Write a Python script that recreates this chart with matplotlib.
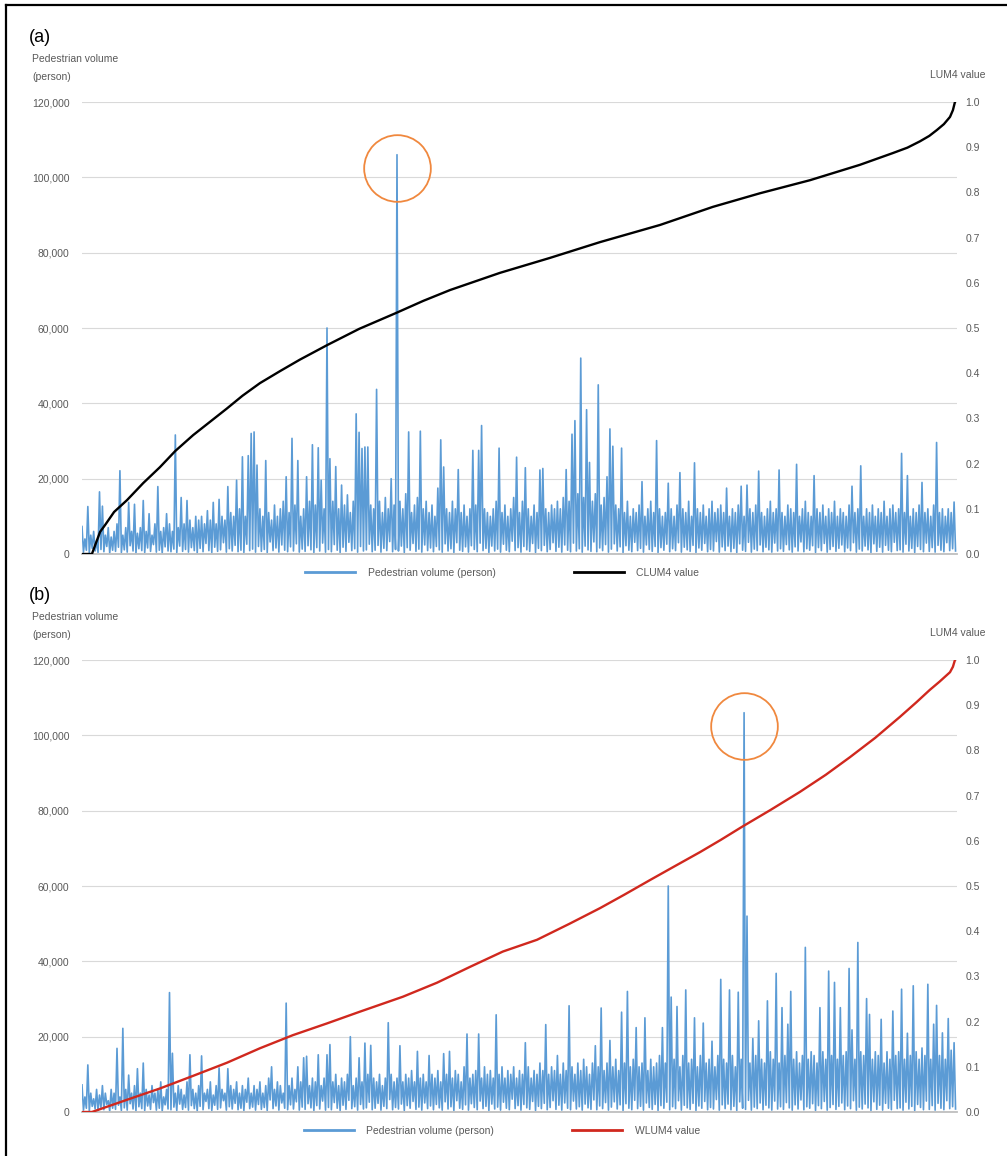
#!/usr/bin/env python3
# Pedestrian volume vs. CLUM4 / WLUM4 rank, two panels (a) and (b)

import numpy as np
import matplotlib
matplotlib.use("Agg")
import matplotlib.pyplot as plt
from matplotlib.lines import Line2D
from matplotlib.ticker import StrMethodFormatter, MultipleLocator

plt.rcParams["font.family"] = ["Liberation Sans", "DejaVu Sans"]

# pedestrian volume (thousand persons), local peaks, one per rank bin, sorted by CLUM4
peak_a = [
    7.3, 4, 12.6, 5, 6, 3.5, 16.5, 12.7, 5, 7, 4.5, 6, 8, 22.1, 5, 7, 13.7, 6, 13.2, 5.5,
    7, 14.2, 6, 10.7, 5, 8, 17.9, 6, 7, 10.7, 8, 6, 31.6, 7, 15, 8, 14.2, 9, 7, 10,
    9, 10, 8, 11.5, 9, 13.7, 8, 14.5, 10, 9, 17.9, 11, 10, 19.6, 12, 25.8, 10, 26.1, 32.0, 32.4,
    23.6, 12, 10, 24.8, 11, 9, 13, 10, 12, 14, 20.5, 11, 30.7, 13, 24.8, 10, 12, 20.5, 14, 29,
    13, 28.2, 19.6, 12, 60, 25.3, 14, 23.2, 12, 18.3, 13, 15.7, 11, 14, 37.2, 32.3, 28, 28.4, 28.4, 13,
    12, 43.7, 14, 11, 15, 12, 20, 13, 106, 14, 12, 16, 32.4, 11, 13, 15, 32.6, 12, 14, 11,
    13, 10, 17.5, 30.3, 23.1, 12, 11, 14, 12, 22.4, 11, 13, 10, 12, 27.5, 13, 27.5, 34.1, 12, 11,
    10, 12, 14, 28.1, 11, 13, 10, 12, 15, 25.7, 11, 14, 22.9, 12, 10, 13, 11, 22.3, 22.7, 12,
    11, 13, 12, 14, 12, 15, 22.4, 14, 31.8, 35.4, 16, 52, 15, 38.3, 24.3, 14, 16, 44.9, 13, 15,
    20.5, 33.2, 28.6, 13, 12, 28.1, 11, 14, 10, 12, 11, 13, 19.2, 10, 12, 14, 11, 30.1, 12, 10,
    11, 18.8, 12, 10, 13, 21.6, 12, 11, 14, 10, 24.2, 12, 11, 13, 10, 12, 14, 11, 12, 13,
    11, 17.5, 10, 12, 11, 13, 18, 10, 18.3, 12, 11, 13, 22, 11, 10, 12, 14, 11, 12, 22.3,
    11, 10, 13, 12, 11, 23.8, 10, 12, 14, 11, 10, 20.8, 12, 11, 13, 10, 12, 11, 14, 10,
    12, 11, 10, 13, 18, 11, 12, 23.4, 10, 12, 11, 13, 10, 12, 11, 14, 10, 12, 13, 11,
    12, 26.7, 11, 20.8, 10, 12, 11, 13, 19, 11, 12, 10, 13, 29.6, 11, 12, 10, 12, 11, 13.8,
]

# same data sorted by WLUM4
peak_b = [
    7.2, 4, 12.5, 5, 3.5, 6, 4.5, 7, 5, 3, 6, 5, 16.9, 4, 22.2, 6, 9.8, 5, 7, 11.5,
    5, 13, 6, 4.5, 7, 5, 6, 8, 4, 6, 31.7, 15.6, 5, 7, 6, 4.5, 8, 15.2, 6, 5,
    7, 14.9, 5, 6, 8, 4.5, 7, 11.7, 6, 5, 11.5, 7, 6, 8, 5, 7, 6, 9, 5, 7,
    6, 8, 5, 7, 9, 12, 6, 8, 7, 5, 28.9, 7, 9, 6, 12, 8, 14.4, 14.8, 7, 9,
    8, 15.2, 7, 9, 15.2, 17.9, 8, 10, 7, 9, 8, 10, 20, 7, 9, 14.4, 8, 18.3, 10, 17.7,
    9, 8, 10, 7, 9, 23.7, 10, 8, 9, 17.6, 8, 10, 9, 11, 8, 16.1, 9, 10, 8, 15,
    10, 9, 11, 8, 15.5, 10, 16.1, 9, 11, 10, 8, 12, 20.7, 9, 10, 11, 20.7, 9, 12, 10,
    11, 9, 25.8, 10, 12, 9, 11, 10, 12, 9, 11, 10, 18.4, 12, 9, 11, 10, 13, 11, 23.2,
    10, 12, 11, 15, 10, 13, 11, 28.2, 12, 10, 13, 11, 14, 12, 10, 13, 17.6, 12, 27.6, 11,
    13, 19, 12, 14, 11, 26.5, 13, 32, 12, 14, 22.4, 12, 13, 25, 11, 14, 12, 13, 15, 22.4,
    13, 60, 30.5, 14, 28, 12, 15, 32.4, 13, 14, 25, 12, 15, 23.6, 13, 14, 18.8, 12, 15, 35.2,
    14, 13, 32.4, 15, 12, 31.8, 14, 106, 52, 13, 19.5, 15, 24.2, 14, 13, 29.5, 16, 14, 36.8, 13,
    27.7, 15, 23.3, 32, 14, 16, 13, 15, 43.7, 14, 16, 15, 13, 27.7, 16, 14, 37.4, 15, 34.4, 14,
    27.7, 15, 16, 38.1, 21.8, 14, 45, 16, 15, 30.1, 25.9, 14, 16, 15, 24.6, 13, 16, 14, 26.8, 15,
    16, 32.6, 14, 20.9, 15, 33.5, 16, 14, 17, 15, 33.9, 14, 23.3, 28.3, 15, 21, 14, 24.8, 16.4, 18.4,
]

# low points between the peaks (thousand persons)
low_vals = [
    0.5, 1.0, 0.3, 1.5, 0.8, 0.4, 1.2, 0.6, 2.0, 0.3, 1.0, 0.7, 1.8, 0.4, 1.1, 0.5, 2.2, 0.8, 0.3, 1.4,
    0.9, 0.4, 1.6, 0.7, 2.5, 0.5, 1.0, 0.3, 1.9, 0.8, 0.6, 1.3, 0.4, 2.1, 0.7, 1.2, 0.5, 1.7, 0.9, 0.3,
    1.5, 0.6, 2.8, 0.9, 0.4, 1.8, 0.7, 1.1, 3.0, 0.5, 1.4, 0.8, 2.3, 0.6, 1.0, 0.4, 2.6, 0.9, 1.3, 0.5,
    2.0, 0.7, 1.2, 0.4, 3.2, 0.9, 1.6, 0.5, 2.4, 1.0, 0.6, 1.9, 0.8, 2.7, 0.5, 1.3, 0.7, 2.2, 1.1, 0.4,
    1.7, 0.8, 2.9, 0.5, 1.2, 0.6, 2.5, 1.0, 0.4, 1.8, 0.7, 3.1, 0.9, 1.4, 0.5, 2.0, 0.8, 1.1, 2.6, 0.6,
    1.0, 2.3, 0.5, 1.5, 0.9, 3.3, 0.6, 1.2, 0.8, 2.1, 0.4, 1.7, 1.0, 2.8, 0.7, 1.3, 0.5, 2.4, 0.9, 1.6,
    0.6, 2.0, 1.1, 0.5, 2.7, 0.8, 1.4, 0.4, 3.0, 1.0, 0.7, 1.9, 0.5, 2.2, 1.2, 0.6, 2.9, 0.9, 1.5, 0.4,
    2.1, 0.8, 1.3, 0.5, 2.6, 1.0, 0.6, 3.4, 0.9, 1.7, 0.5, 2.0, 1.1, 0.7, 2.8, 0.4, 1.5, 0.9, 2.3, 0.6,
    1.2, 3.0, 0.7, 1.8, 0.5, 2.4, 1.0, 0.6, 2.9, 0.8, 1.4, 0.5, 2.1, 1.1, 0.7, 3.2, 0.6, 1.6, 0.9, 2.5,
    0.5, 1.3, 2.7, 0.8, 1.9, 0.4, 2.2, 1.0, 0.6, 3.1, 0.9, 1.5, 0.5, 2.4, 1.2, 0.7, 2.0, 0.4, 1.7, 1.0,
    2.6, 0.6, 1.4, 0.9, 3.0, 0.5, 1.8, 1.1, 0.7, 2.3, 0.4, 1.6, 1.0, 2.8, 0.6, 1.2, 0.8, 3.3, 0.5, 1.9,
    0.9, 2.1, 0.6, 1.5, 0.4, 2.7, 1.0, 0.7, 3.1, 0.5, 1.3, 0.9, 2.4, 0.6, 1.8, 1.1, 0.5, 2.9, 0.8, 1.4,
    0.7, 2.5, 1.1, 0.5, 1.9, 0.8, 3.2, 0.6, 1.4, 1.0, 2.2, 0.4, 1.7, 0.9, 2.8, 0.5, 1.2, 2.0, 0.7, 1.5,
    2.4, 0.6, 1.6, 0.9, 3.0, 0.5, 1.3, 0.8, 2.1, 1.1, 0.4, 2.7, 0.7, 1.8, 0.5, 2.3, 1.0, 0.6, 3.1, 0.9,
    1.1, 0.5, 2.6, 0.8, 1.5, 0.4, 2.0, 1.2, 0.6, 2.9, 0.7, 1.7, 0.5, 2.3, 1.0, 0.6, 3.0, 0.9, 1.4, 0.8,
]

# LUM4 curves read at some rank positions
clum4_rank = [0, 3.4, 6.2, 7.9, 11, 15.4, 21, 26.7, 32, 38.1, 44, 49.7, 55, 61, 68, 74.7, 84, 95, 107.6,
              117, 126.2, 143.3, 160.4, 177.6, 198.2, 216.3, 232.4, 249.6, 266.7, 278, 283, 287.3,
              290.5, 293.1, 295.5, 297.6, 298.6, 299.3]
clum4_val = [0, 0, 0.049, 0.064, 0.093, 0.119, 0.157, 0.192, 0.228, 0.263, 0.293, 0.322, 0.35, 0.378,
             0.405, 0.43, 0.462, 0.498, 0.533, 0.56, 0.584, 0.622, 0.655, 0.69, 0.728, 0.768, 0.798,
             0.827, 0.861, 0.887, 0.899, 0.913, 0.925, 0.938, 0.951, 0.967, 0.982, 1.0]

wlum4_rank = [0, 3.4, 15.4, 26.7, 38.1, 49.7, 61, 72.3, 84, 95.3, 110, 121.7, 133, 144.3, 156,
              167, 177.6, 186, 194.7, 203, 211.9, 219, 226.3, 236, 246.1, 255, 263.3, 272, 280.4,
              286, 290.7, 294, 297.6, 298.6, 299.3]
wlum4_val = [0, 0, 0.027, 0.052, 0.080, 0.109, 0.141, 0.170, 0.196, 0.222, 0.255, 0.286, 0.321, 0.355,
             0.381, 0.416, 0.451, 0.481, 0.513, 0.543, 0.575, 0.602, 0.631, 0.668, 0.708, 0.746,
             0.785, 0.828, 0.874, 0.906, 0.934, 0.952, 0.973, 0.985, 1.0]

BLUE = "#5B9BD5"
GREY = "#595959"
ORANGE = "#F0883E"
W, H = 1007, 1156


def panel(fig, top_px, letter, peaks, rank, val, color, name):
    bottom_px = top_px + 452
    ax = fig.add_axes([82 / W, 1 - bottom_px / H, 875 / W, 452 / H])
    ped = np.column_stack((peaks, low_vals)).ravel() * 1000
    x = np.arange(len(ped)) / 2.0
    ax.plot(x, ped, color=BLUE, lw=1.2, zorder=2)

    ax.set_xlim(0, 300)
    ax.set_ylim(0, 120000)
    ax.yaxis.set_major_locator(MultipleLocator(20000))
    ax.yaxis.set_major_formatter(StrMethodFormatter("{x:,.0f}"))
    ax.grid(axis="y", color="#d9d9d9", lw=0.8)
    ax.set_axisbelow(True)
    ax.set_xticks([])
    for s in ("top", "right", "left"):
        ax.spines[s].set_visible(False)
    ax.spines["bottom"].set_color("#bfbfbf")
    ax.spines["bottom"].set_linewidth(1.3)
    ax.tick_params(axis="y", length=0, pad=9, labelsize=7.5, labelcolor=GREY)

    # orange ring around the highest spike
    imax = int(np.argmax(peaks))
    ax.plot([imax], [peaks[imax] * 1000 - 3500], marker="o", ms=48, mfc="none",
            mec=ORANGE, mew=1.3, zorder=4, clip_on=False)

    ax2 = ax.twinx()
    ax2.plot(rank, val, color=color, lw=1.7, zorder=3)
    ax2.set_ylim(0, 1.0)
    ax2.yaxis.set_major_locator(MultipleLocator(0.1))
    ax2.yaxis.set_major_formatter(StrMethodFormatter("{x:.1f}"))
    for s in ax2.spines.values():
        s.set_visible(False)
    ax2.tick_params(axis="y", length=0, pad=6, labelsize=7.5, labelcolor=GREY)
    ax2.set_xlim(0, 300)

    fig.text(29 / W, 1 - (top_px - 64) / H, letter, fontsize=13, color="black", va="center")
    fig.text(32 / W, 1 - (top_px - 48) / H, "Pedestrian volume\n(person)", fontsize=7.5,
             color=GREY, va="top", linespacing=1.95)
    fig.text(986 / W, 1 - (top_px - 27) / H, "LUM4 value", fontsize=7.5, color=GREY,
             ha="right", va="center")

    handles = [Line2D([], [], color=BLUE, lw=2), Line2D([], [], color=color, lw=2)]
    fig.legend(handles, ["Pedestrian volume (person)", name], loc="center",
               bbox_to_anchor=(502 / W, 1 - (bottom_px + 19) / H), ncol=2, frameon=False,
               fontsize=7.5, handlelength=4.8, handletextpad=1.2, columnspacing=7.5,
               labelcolor=GREY)


fig = plt.figure(figsize=(W / 100, H / 100), dpi=100)
panel(fig, 102, "(a)", peak_a, clum4_rank, clum4_val, "black", "CLUM4 value")
panel(fig, 660, "(b)", peak_b, wlum4_rank, wlum4_val, "#D0281E", "WLUM4 value")

# frame edge of the original figure
fig.add_artist(Line2D([6 / W, 6 / W], [0, 1 - 5 / H], transform=fig.transFigure, color="black", lw=1.6))
fig.add_artist(Line2D([6 / W, 1], [1 - 5 / H, 1 - 5 / H], transform=fig.transFigure, color="black", lw=1.6))

fig.savefig("out.png", dpi=100)
